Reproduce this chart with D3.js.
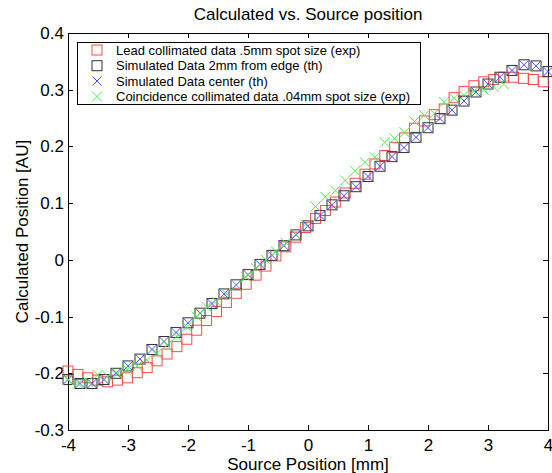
<!DOCTYPE html>
<html><head><meta charset="utf-8">
<script src="https://cdn.jsdelivr.net/npm/d3@7"></script>
<style>
html,body{margin:0;padding:0;background:#fff;}
svg{display:block;font-family:"Liberation Sans",Arial,Helvetica,sans-serif;}
</style></head>
<body>
<svg id="chart" width="552" height="473"></svg>
<script>
// ---- data ----
const title = "Calculated vs. Source position";
const xLabel = "Source Position [mm]";
const yLabel = "Calculated Position [AU]";
const xTicks = [-4,-3,-2,-1,0,1,2,3,4];
const yTicks = [-0.3,-0.2,-0.1,0,0.1,0.2,0.3,0.4];
const seriesNames = [
  "Lead collimated data .5mm spot size (exp)",
  "Simulated Data 2mm from edge (th)",
  "Simulated Data center (th)",
  "Coincidence collimated data .04mm spot size (exp)"
];

// Lead collimated (exp)
const leadX = [-4,-3.835,-3.67,-3.505,-3.34,-3.175,-3.01,-2.845,-2.68,-2.515,-2.35,-2.185,-2.02,-1.855,-1.69,-1.525,-1.36,-1.195,-1.03,-0.865,-0.7,-0.535,-0.37,-0.205,-0.04,0.125,0.29,0.455,0.62,0.785,0.95,1.115,1.28,1.445,1.61,1.775,1.94,2.105,2.27,2.435,2.6,2.765,2.93,3.095,3.26,3.425,3.59,3.755,3.92];
const leadY = [-0.196,-0.202,-0.208,-0.212,-0.215,-0.212,-0.208,-0.199,-0.190,-0.178,-0.166,-0.153,-0.140,-0.124,-0.107,-0.091,-0.075,-0.059,-0.043,-0.027,-0.011,0.007,0.023,0.040,0.057,0.073,0.087,0.102,0.118,0.135,0.151,0.169,0.184,0.198,0.215,0.232,0.245,0.256,0.266,0.286,0.297,0.307,0.314,0.318,0.322,0.322,0.320,0.318,0.314];

// Simulated (th) – edge and center
const simX = [-4,-3.8,-3.6,-3.4,-3.2,-3,-2.8,-2.6,-2.4,-2.2,-2,-1.8,-1.6,-1.4,-1.2,-1,-0.8,-0.6,-0.4,-0.2,0,0.2,0.4,0.6,0.8,1,1.2,1.4,1.6,1.8,2,2.2,2.4,2.6,2.8,3,3.2,3.4,3.6,3.8,4];
const simEdgeY = [-0.211,-0.218,-0.218,-0.211,-0.200,-0.187,-0.175,-0.158,-0.144,-0.128,-0.111,-0.094,-0.077,-0.060,-0.044,-0.026,-0.008,0.008,0.025,0.044,0.060,0.078,0.097,0.113,0.129,0.147,0.165,0.182,0.198,0.216,0.233,0.249,0.264,0.280,0.296,0.310,0.322,0.334,0.344,0.342,0.332];
const simCenterY = [-0.211,-0.218,-0.218,-0.211,-0.200,-0.187,-0.175,-0.158,-0.144,-0.128,-0.111,-0.094,-0.077,-0.060,-0.044,-0.026,-0.008,0.008,0.025,0.044,0.060,0.078,0.097,0.113,0.129,0.147,0.165,0.182,0.198,0.216,0.233,0.249,0.264,0.280,0.296,0.310,0.322,0.334,0.344,0.342,0.332];

// Coincidence collimated (exp)
const coinX = [-4,-3.835,-3.67,-3.505,-3.34,-3.175,-3.01,-2.845,-2.68,-2.515,-2.35,-2.185,-2.02,-1.855,-1.69,-1.525,-1.36,-1.195,-1.03,-0.865,-0.7,-0.535,-0.37,-0.205,-0.04,0.125,0.29,0.455,0.62,0.785,0.95,1.115,1.28,1.445,1.61,1.775,1.94,2.105,2.27,2.435,2.6,2.765,2.93,3.095,3.26];
const coinY = [-0.212,-0.218,-0.215,-0.203,-0.205,-0.200,-0.193,-0.187,-0.177,-0.165,-0.150,-0.135,-0.118,-0.100,-0.083,-0.074,-0.060,-0.045,-0.030,-0.015,0.000,0.015,0.030,0.045,0.062,0.094,0.111,0.122,0.140,0.157,0.172,0.181,0.207,0.214,0.225,0.244,0.255,0.258,0.278,0.285,0.290,0.297,0.300,0.305,0.310];

// ---- chart ----
const W = 552, H = 473;
const m = {left:68, top:33, right:4, bottom:43};
const pw = W - m.left - m.right, ph = H - m.top - m.bottom;
const svg = d3.select("#chart");
const x = d3.scaleLinear().domain([-4,4]).range([m.left, m.left+pw]);
const y = d3.scaleLinear().domain([-0.3,0.4]).range([m.top+ph, m.top]);
const fmt = d => String(+d.toFixed(1));
const FS = 17;

svg.append("rect").attr("width",W).attr("height",H).attr("fill","#fff");

// plot frame
svg.append("rect").attr("x",m.left).attr("y",m.top).attr("width",pw).attr("height",ph)
  .attr("fill","#fff").attr("stroke","#000").attr("stroke-width",1).attr("shape-rendering","crispEdges");

const tickLen = 5;
function styleAxis(g){
  g.select(".domain").remove();
  g.selectAll("line").attr("stroke","#000").attr("shape-rendering","crispEdges");
  g.selectAll("text").attr("fill","#000").attr("font-size",FS);
}
svg.append("g").attr("transform",`translate(0,${m.top+ph})`)
  .call(d3.axisBottom(x).tickValues(xTicks).tickFormat(fmt).tickSizeInner(-tickLen).tickSizeOuter(0).tickPadding(9))
  .call(styleAxis);
svg.append("g").attr("transform",`translate(0,${m.top})`)
  .call(d3.axisTop(x).tickValues(xTicks).tickFormat("").tickSizeInner(-tickLen).tickSizeOuter(0))
  .call(styleAxis);
svg.append("g").attr("transform",`translate(${m.left},0)`)
  .call(d3.axisLeft(y).tickValues(yTicks).tickFormat(fmt).tickSizeInner(-tickLen).tickSizeOuter(0).tickPadding(4))
  .call(styleAxis);
svg.append("g").attr("transform",`translate(${m.left+pw},0)`)
  .call(d3.axisRight(y).tickValues(yTicks).tickFormat("").tickSizeInner(-tickLen).tickSizeOuter(0))
  .call(styleAxis);

// titles
svg.append("text").attr("x",m.left+pw/2).attr("y",20).attr("text-anchor","middle")
  .attr("font-size",FS).attr("fill","#000").text(title);
svg.append("text").attr("x",m.left+pw/2).attr("y",470).attr("text-anchor","middle")
  .attr("font-size",FS).attr("fill","#000").text(xLabel);
svg.append("text").attr("transform",`translate(28,${m.top+ph/2}) rotate(-90)`).attr("text-anchor","middle")
  .attr("font-size",FS).attr("fill","#000").text(yLabel);

// markers
const SQ = 10, XS = 4.5;
function squares(g, xs, ys, color){
  g.selectAll(null).data(xs.map((d,i)=>[d,ys[i]])).enter().append("rect")
    .attr("x",d=>x(d[0])-SQ/2).attr("y",d=>y(d[1])-SQ/2).attr("width",SQ).attr("height",SQ)
    .attr("fill","none").attr("stroke",color).attr("stroke-width",1);
}
function crosses(g, xs, ys, color, s){
  g.selectAll(null).data(xs.map((d,i)=>[d,ys[i]])).enter().append("path")
    .attr("d",d=>{const cx=x(d[0]),cy=y(d[1]);return `M${cx-s},${cy-s}L${cx+s},${cy+s}M${cx-s},${cy+s}L${cx+s},${cy-s}`;})
    .attr("fill","none").attr("stroke",color).attr("stroke-width",1);
}
const plot = svg.append("g");
const colors = ["#ff4a4a","#333","#4a4aff","#50e850"];
squares(plot.append("g"), leadX, leadY, colors[0]);
squares(plot.append("g"), simX, simEdgeY, colors[1]);
crosses(plot.append("g"), simX, simCenterY, colors[2], XS);
crosses(plot.append("g"), coinX, coinY, colors[3], 5);

// legend
const lg = svg.append("g");
lg.append("rect").attr("x",77.5).attr("y",42.5).attr("width",343).attr("height",62)
  .attr("fill","#fff").attr("stroke","#000").attr("stroke-width",1);
const rowY = [50,65.7,81,96.5];
seriesNames.forEach((name,i)=>{
  const cx = 97, cy = rowY[i];
  if(i<2){
    lg.append("rect").attr("x",cx-SQ/2).attr("y",cy-SQ/2).attr("width",SQ).attr("height",SQ)
      .attr("fill","none").attr("stroke",colors[i]);
  } else {
    const s = i===2?XS:5;
    lg.append("path").attr("d",`M${cx-s},${cy-s}L${cx+s},${cy+s}M${cx-s},${cy+s}L${cx+s},${cy-s}`)
      .attr("stroke",colors[i]).attr("fill","none");
  }
  lg.append("text").attr("x",116).attr("y",cy).attr("dy","0.36em").attr("font-size",13)
    .attr("fill","#000").text(name);
});
</script>
</body></html>
